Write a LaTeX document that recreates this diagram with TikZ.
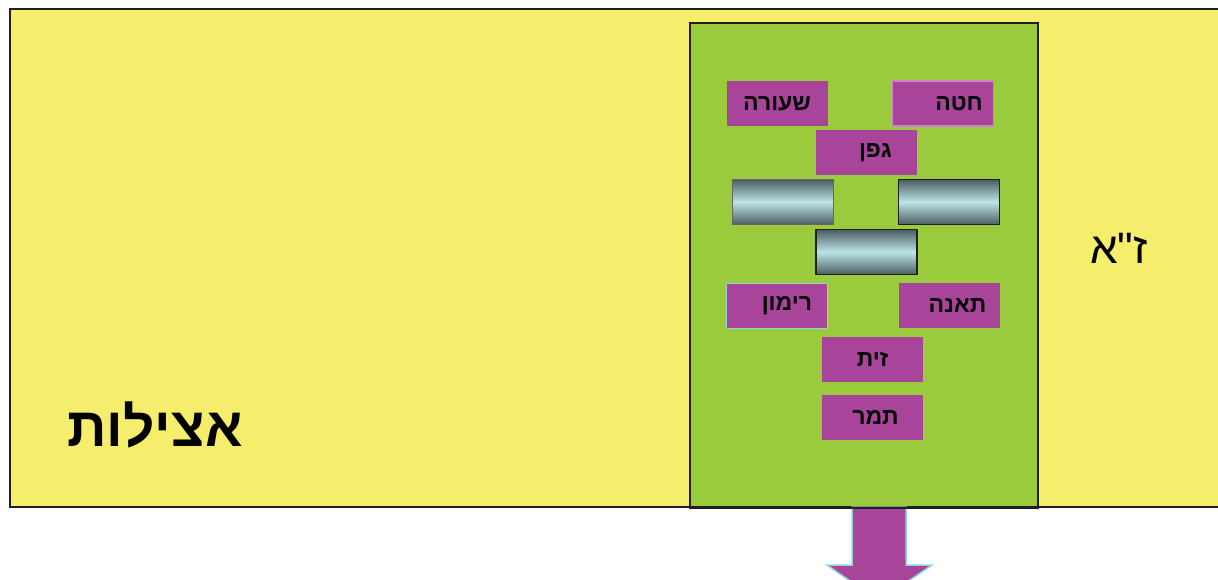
\documentclass[tikz,border=0pt]{standalone}
\usepackage{fontspec}
\usetikzlibrary{positioning}
\TeXXeTstate=1
\newfontfamily\hebbold[Script=Hebrew]{Liberation Sans Bold}
\newfontfamily\hebfont[Script=Hebrew, Ligatures=TeXOff]{Liberation Sans}
\newcommand{\rtl}[1]{\beginR #1\endR}
\definecolor{atzilutyellow}{HTML}{F5EE6C}
\definecolor{zagreen}{HTML}{9ACB3C}
\definecolor{fruitpurple}{HTML}{A8449A}
\definecolor{inkdark}{HTML}{231F20}
\definecolor{pinkedge}{HTML}{D480C6}
\definecolor{cyanedge}{HTML}{8ED4DE}
\definecolor{bardark}{HTML}{4A5E61}
\definecolor{barlight}{HTML}{BDE4E7}

\begin{document}
\begin{tikzpicture}[x=1pt, y=-1pt,
		fruit/.style={fill=fruitpurple, minimum width=101pt, minimum height=45pt, font=\hebbold\fontsize{23}{26}\selectfont},
		bar/.style={top color=bardark, bottom color=bardark, middle color=barlight, minimum width=101pt, minimum height=45pt}]
		\clip (0,0) rectangle (1218,580);
		\node at (620,258) [draw=inkdark, line width=1.5pt, fill=atzilutyellow, minimum width=1220pt, minimum height=498pt] (olam) {};
		\node at (864,265) [draw=inkdark, line width=1.5pt, fill=zagreen, minimum width=348pt, minimum height=484pt] (partzuf) {};
		\node at (155,425) [font=\hebbold\fontsize{55}{60}\selectfont] (atzilut) {\rtl{אצילות}};
		\node at (1119,248) [font=\hebfont\fontsize{44}{50}\selectfont] (za) {\rtl{ז"א}};

		\node at (943,103.5) [fruit, draw=pinkedge, line width=1.5pt] (chita) {\rtl{חטה\hspace{32pt}}};
		\node [fruit, left=64pt of chita] (seora) {\rtl{שעורה}};
		\node at (866.5,152.5) [fruit] (gefen) {\rtl{גפן\hspace{18pt}}};
		\node at (949,202) [bar, draw=inkdark, line width=1.5pt] (barright) {};
		\node [bar, left=64pt of barright, draw=black!60, line width=0.8pt] (barleft) {};
		\node at (866.5,252) [bar, draw=inkdark, line width=1.5pt] (barmid) {};
		\node at (949.5,305.5) [fruit] (teena) {\rtl{תאנה\hspace{16pt}}};
		\node [fruit, left=71pt of teena, draw=cyanedge, line width=0.8pt] (rimon) {\rtl{רימון\hspace{20pt}}};
		\node at (872.5,359.5) [fruit] (zayit) {\rtl{זית}};
		\node [fruit, below=13pt of zayit] (tmar) {\rtl{תמר\hspace{6pt}}};

		% flow out of the partzuf, downwards
		\draw [draw=cyanedge, line width=1.5pt, fill=fruitpurple] (852,507) -- (906,507) -- (906,565) -- (932,565) -- (879,601) -- (827,565) -- (852,565) -- cycle;
		\draw [line width=1.5pt, draw=inkdark] (partzuf.south west) -- (partzuf.south east);
\end{tikzpicture}
\end{document}
